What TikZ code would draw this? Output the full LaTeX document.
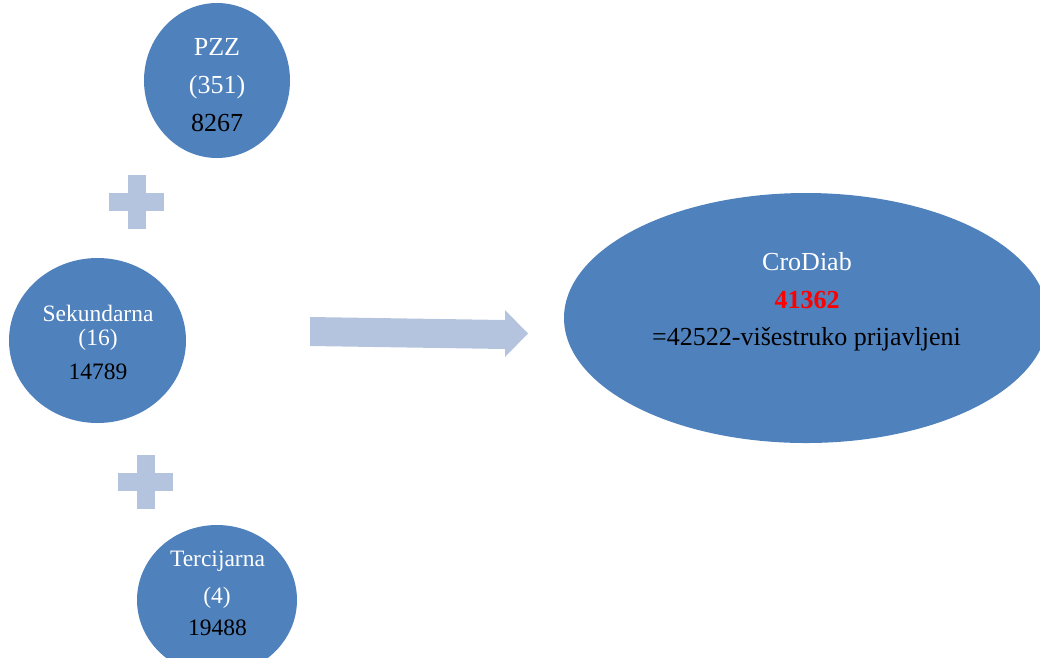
\documentclass[tikz,border=0pt]{standalone}
\usepackage{fontspec}
\setmainfont{Liberation Serif}
\usetikzlibrary{shapes.geometric}
\definecolor{circblue}{RGB}{79,129,189}
\definecolor{lightblue}{RGB}{180,196,223}
\definecolor{redtxt}{RGB}{255,0,0}
\tikzset{
  bubble/.style={ellipse, fill=circblue, draw=none, inner sep=0pt},
  big/.style={font=\fontsize{26}{30}\selectfont, anchor=base, inner sep=0pt},
  small/.style={font=\fontsize{23.5}{28}\selectfont, anchor=base, inner sep=0pt},
  wtxt/.style={text=white},
  btxt/.style={text=black},
  plusbar/.style={fill=lightblue, draw=none},
}
\begin{document}
\begin{tikzpicture}[x=1pt,y=-1pt]
\useasboundingbox (0,0) rectangle (1040,657);
% circles
\node[bubble, minimum width=146pt, minimum height=155pt] (pzz) at (217,80.5) {};
\node[bubble, minimum width=177pt, minimum height=165pt] (sek) at (97.5,340.5) {};
\node[bubble, minimum width=160pt, minimum height=150pt] (ter) at (217,600) {};
\node[bubble, minimum width=484pt, minimum height=250pt] (cro) at (806,318) {};
% texts
\node[big, wtxt] (pzz1) at (217,55) {PZZ};
\node[big, wtxt] (pzz2) at (217,93) {(351)};
\node[big, btxt] (pzz3) at (217,131) {8267};
\node[small, wtxt] (sek1) at (98,321) {Sekundarna};
\node[small, wtxt] (sek2) at (98,345) {(16)};
\node[small, btxt] (sek3) at (98,379) {14789};
\node[small, wtxt] (ter1) at (217.5,566) {Tercijarna};
\node[small, wtxt] (ter2) at (217,603) {(4)};
\node[small, btxt] (ter3) at (217.5,635) {19488};
\node[big, wtxt] (cro1) at (807,270) {CroDiab};
\node[big, text=redtxt, font=\fontsize{26}{30}\selectfont\bfseries] (cro2) at (807,308) {41362};
\node[big, btxt] (cro3) at (806.5,345) {=42522-višestruko prijavljeni};
% plus signs
\fill[plusbar] (128,175) rectangle (146,229);
\fill[plusbar] (109,193) rectangle (164,211);
\fill[plusbar] (137,455) rectangle (155,509);
\fill[plusbar] (118,473) rectangle (173,491);
% arrow
\fill[lightblue] (310,317) -- (505,320) -- (505,310) -- (528,333.5) -- (505,357) -- (505,349) -- (310,346) -- cycle;
\end{tikzpicture}
\end{document}
